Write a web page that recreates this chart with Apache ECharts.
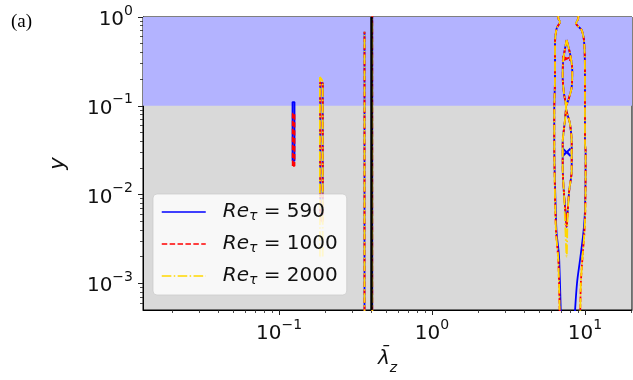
<!DOCTYPE html>
<html>
<head>
<meta charset="utf-8">
<script src="https://cdn.jsdelivr.net/npm/echarts@6/dist/echarts.min.js"></script>
<style>
  html, body { margin: 0; padding: 0; background: #fff; }
  #chart { width: 633px; height: 380px; }
</style>
</head>
<body>
<div id="chart"></div>
<script>
// axis limits and tick values (log axes)
const X_MIN = 0.0129, X_MAX = 20.3;
const Y_MIN = 0.0005, Y_MAX = 1;
const xMajor = [0.1, 1, 10];
const xMinor = [0.02, 0.03, 0.04, 0.05, 0.06, 0.07, 0.08, 0.09,
  0.2, 0.3, 0.4, 0.5, 0.6, 0.7, 0.8, 0.9, 2, 3, 4, 5, 6, 7, 8, 9, 20];
const yMajor = [0.001, 0.01, 0.1, 1];
const yMinor = [0.0006, 0.0007, 0.0008, 0.0009,
  0.002, 0.003, 0.004, 0.005, 0.006, 0.007, 0.008, 0.009,
  0.02, 0.03, 0.04, 0.05, 0.06, 0.07, 0.08, 0.09,
  0.2, 0.3, 0.4, 0.5, 0.6, 0.7, 0.8, 0.9];

// shaded band and reference line
const outerBand = [0.1, 1];
const refLambda = 0.395;

// contour traces, points are [lambda_z, y]
// narrow strip near lambda ~ 0.12 (only the two lower Re)
const strip012_590 = [[0.1225, 0.024], [0.1225, 0.11], [0.1262, 0.11], [0.1262, 0.024], [0.1225, 0.024]];
const strip012_1000 = [[0.1228, 0.021], [0.1228, 0.082], [0.1262, 0.082], [0.1262, 0.021], [0.1228, 0.021]];

// strip near lambda ~ 0.19
const strip019_590 = [[0.186, 0.006], [0.186, 0.18], [0.193, 0.18], [0.193, 0.006], [0.186, 0.006]];
const strip019_1000 = [[0.186, 0.005], [0.186, 0.185], [0.193, 0.185], [0.193, 0.005], [0.186, 0.005]];
const strip019_2000 = [[0.185, 0.002], [0.185, 0.21], [0.193, 0.185], [0.193, 0.002], [0.185, 0.002]];

// two long lines either side of the black reference line
const line036 = [[0.362, 0.0004], [0.362, 0.68]];
const line041 = [[0.407, 0.0004], [0.407, 1.05]];

// big outer contour, left and right branches
const outerLeft_590 = [[6.69, 1.05], [6.69, 0.967], [6.87, 0.885], [6.53, 0.745], [6.37, 0.505], [6.37, 0.21],
  [6.30, 0.089], [6.30, 0.0377], [6.44, 0.0066], [6.53, 0.0036], [6.69, 0.0025], [6.79, 0.0018], [6.97, 0.0004]];
const outerLeft_hi = [[6.69, 1.05], [6.69, 0.967], [6.87, 0.885], [6.53, 0.745], [6.37, 0.505], [6.37, 0.21],
  [6.30, 0.089], [6.30, 0.0377], [6.40, 0.0066], [6.48, 0.0036], [6.60, 0.0025], [6.70, 0.0018], [6.85, 0.0004]];
const outerRight_590 = [[9.04, 1.05], [9.04, 0.967], [8.74, 0.85], [9.52, 0.71], [9.89, 0.505], [10.0, 0.21],
  [10.0, 0.0377], [10.1, 0.031], [10.0, 0.0066], [9.75, 0.0036], [9.27, 0.0018], [8.87, 0.001], [8.55, 0.0004]];
const outerRight_hi = [[9.04, 1.05], [9.04, 0.967], [8.74, 0.85], [9.52, 0.71], [9.89, 0.505], [10.0, 0.21],
  [10.0, 0.0377], [10.1, 0.031], [10.05, 0.0066], [9.9, 0.0036], [9.6, 0.0018], [9.4, 0.001], [9.3, 0.0004]];

// inner figure-eight contour
const inner_590 = [[7.59, 0.55], [7.98, 0.389], [8.26, 0.252], [8.19, 0.163], [7.78, 0.115], [7.51, 0.097],
  [7.98, 0.063], [8.19, 0.0377], [8.19, 0.0187], [7.89, 0.0111], [7.66, 0.0055], [7.59, 0.0043],
  [7.51, 0.0055], [7.29, 0.0103], [7.15, 0.0203], [7.15, 0.0377], [7.40, 0.0686], [7.51, 0.097],
  [7.29, 0.138], [7.15, 0.211], [7.21, 0.327], [7.59, 0.55]];
const inner_2000 = [[7.59, 0.55], [7.98, 0.389], [8.26, 0.252], [8.19, 0.163], [7.78, 0.115], [7.51, 0.097],
  [7.98, 0.063], [8.19, 0.0377], [8.19, 0.0187], [7.89, 0.0111], [7.70, 0.0055], [7.59, 0.002],
  [7.45, 0.004], [7.29, 0.0103], [7.15, 0.0203], [7.15, 0.0377], [7.40, 0.0686], [7.51, 0.097],
  [7.29, 0.138], [7.15, 0.211], [7.21, 0.327], [7.59, 0.55]];

// little crossing bits inside the lobes
const crossLow = [[7.15, 0.033], [8.05, 0.027], [7.6, 0.03], [7.15, 0.027], [8.05, 0.033]];
const crossHigh = [[7.1, 0.36], [8.2, 0.32], [7.6, 0.34], [7.1, 0.32], [8.2, 0.36]];

const NAMES = ["Re590", "Re1000", "Re2000"];
const LEGEND_VALUES = { Re590: "590", Re1000: "1000", Re2000: "2000" };

const styles = {
  Re590: { color: "#0000ff", width: 1.8, type: "solid" },
  Re1000: { color: "#ff0000", width: 1.8, type: [5.5, 2.4] },
  Re2000: { color: "#ffd700", width: 1.8, type: [9.6, 2.4, 1.5, 2.4] },
};

const segments = {
  Re590: [strip012_590, strip019_590, line036, line041, outerLeft_590, outerRight_590, inner_590, crossLow],
  Re1000: [strip012_1000, strip019_1000, line036, line041, outerLeft_hi, outerRight_hi, inner_590, crossHigh],
  Re2000: [strip019_2000, line036, line041, outerLeft_hi, outerRight_hi, inner_2000],
};

const FONT = "DejaVu Sans";

// tick label as 10^n with a superscript
const powLabel = (v) => {
  const e = Math.round(Math.log10(v));
  return "{b|10}{s|" + (e < 0 ? "\u2212" + -e : e) + "}";
};
const powRich = {
  b: { fontFamily: FONT, fontSize: 20, color: "#111", lineHeight: 26, verticalAlign: "bottom" },
  s: { fontFamily: FONT, fontSize: 14, color: "#111", lineHeight: 14, verticalAlign: "top" },
};

const chart = echarts.init(document.getElementById("chart"), null, { renderer: "canvas" });

const series = [
  // background band y in [0.1, 1]
  {
    type: "line",
    data: [],
    xAxisIndex: 0,
    yAxisIndex: 0,
    z: 1,
    silent: true,
    markArea: {
      silent: true,
      label: { show: false },
      itemStyle: { color: "#b3b3ff", opacity: 1 },
      data: [[{ yAxis: outerBand[0] }, { yAxis: outerBand[1] }]],
    },
  },
];

for (const name of NAMES) {
  for (const seg of segments[name]) {
    series.push({
      name: name,
      type: "line",
      data: seg,
      xAxisIndex: 0,
      yAxisIndex: 0,
      showSymbol: false,
      symbol: "none",
      smooth: 0.3,
      z: 3,
      silent: true,
      lineStyle: styles[name],
      itemStyle: { color: styles[name].color },
    });
  }
}

// black vertical reference line
series.push({
  type: "line",
  data: [],
  xAxisIndex: 0,
  yAxisIndex: 0,
  z: 6,
  silent: true,
  markLine: {
    silent: true,
    symbol: ["none", "none"],
    label: { show: false },
    lineStyle: { color: "#000", width: 2.5, type: "solid" },
    data: [{ xAxis: refLambda }],
  },
});

chart.setOption({
  animation: false,
  title: {
    text: "(a)",
    left: 6,
    top: 8,
    textStyle: { fontFamily: "Liberation Serif", fontSize: 19, fontWeight: "normal", color: "#000" },
  },
  grid: {
    left: 143,
    right: 1,
    top: 17,
    bottom: 70,
    show: true,
    backgroundColor: "#d9d9d9",
    borderColor: "#000",
    borderWidth: 1,
  },
  legend: {
    data: NAMES,
    orient: "vertical",
    left: 153,
    top: 194,
    itemWidth: 44,
    itemHeight: 14,
    itemGap: 11,
    padding: [8, 9, 8, 8],
    backgroundColor: "rgba(255,255,255,0.8)",
    borderColor: "rgba(204,204,204,0.8)",
    borderWidth: 1,
    borderRadius: 4,
    selectedMode: false,
    // hide the marker dot, keep only the line sample
    itemStyle: { opacity: 0 },
    lineStyle: { width: 1.5 },
    formatter: (n) => "{i|Re}{t|\u03c4}{n| = " + LEGEND_VALUES[n] + "}",
    textStyle: {
      rich: {
        i: { fontFamily: FONT, fontStyle: "italic", fontSize: 20, color: "#111", lineHeight: 22, padding: [0, 0, 0, 12] },
        t: { fontFamily: FONT, fontStyle: "italic", fontSize: 14, color: "#111", lineHeight: 14, verticalAlign: "bottom" },
        n: { fontFamily: FONT, fontSize: 20, color: "#111", lineHeight: 22 },
      },
    },
  },
  xAxis: [
    {
      type: "log",
      min: X_MIN,
      max: X_MAX,
      position: "bottom",
      name: "{l|\u03bb\u0304}{s|z}",
      nameLocation: "middle",
      nameGap: 34,
      nameTextStyle: {
        rich: {
          l: { fontFamily: FONT, fontStyle: "italic", fontSize: 20, color: "#111", lineHeight: 26, verticalAlign: "top" },
          s: { fontFamily: FONT, fontStyle: "italic", fontSize: 14, color: "#111", lineHeight: 14, verticalAlign: "bottom" },
        },
      },
      axisLine: { show: true, lineStyle: { color: "#000", width: 1 } },
      axisTick: { customValues: xMajor, length: 5, lineStyle: { color: "#222", width: 1 } },
      axisLabel: { customValues: xMajor, margin: 8, formatter: powLabel, rich: powRich },
      splitLine: { show: false },
    },
    {
      type: "log",
      min: X_MIN,
      max: X_MAX,
      position: "bottom",
      axisLine: { show: false },
      axisTick: { customValues: xMinor, length: 3, lineStyle: { color: "#222", width: 0.8 } },
      axisLabel: { show: false },
      splitLine: { show: false },
    },
  ],
  yAxis: [
    {
      type: "log",
      min: Y_MIN,
      max: Y_MAX,
      position: "left",
      name: "y",
      nameLocation: "middle",
      nameGap: 74,
      nameRotate: 90,
      nameTextStyle: { fontFamily: FONT, fontStyle: "italic", fontSize: 21, color: "#111" },
      axisLine: { show: true, lineStyle: { color: "#000", width: 1 } },
      axisTick: { customValues: yMajor, length: 5, lineStyle: { color: "#222", width: 1 } },
      axisLabel: { customValues: yMajor, margin: 10, formatter: powLabel, rich: powRich },
      splitLine: { show: false },
    },
    {
      type: "log",
      min: Y_MIN,
      max: Y_MAX,
      position: "left",
      axisLine: { show: false },
      axisTick: { customValues: yMinor, length: 3, lineStyle: { color: "#222", width: 0.8 } },
      axisLabel: { show: false },
      splitLine: { show: false },
    },
  ],
  series: series,
});
</script>
</body>
</html>
